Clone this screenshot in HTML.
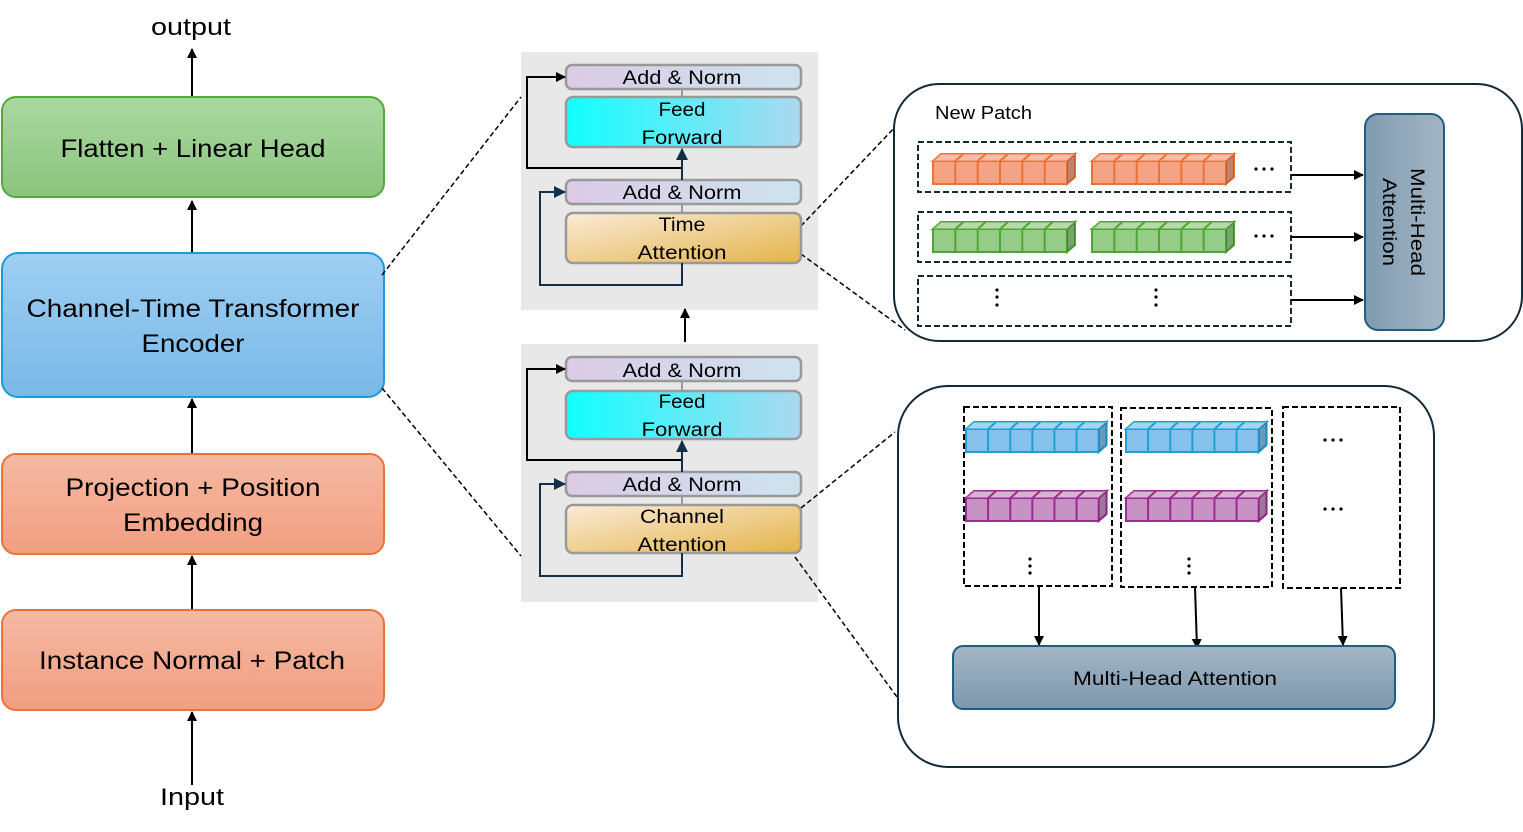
<!DOCTYPE html>
<html><head><meta charset="utf-8"><style>
html,body{margin:0;padding:0;background:#fff;width:1523px;height:832px;overflow:hidden}
svg{display:block;font-family:"Liberation Sans",sans-serif}
</style></head><body>
<svg width="1523" height="832" viewBox="0 0 1523 832" xmlns="http://www.w3.org/2000/svg">
<defs>
<linearGradient id="gG" x1="0" y1="0" x2="0" y2="1"><stop offset="0" stop-color="#a9d8a0"/><stop offset="1" stop-color="#8cc47e"/></linearGradient>
<linearGradient id="gB" x1="0" y1="0" x2="0" y2="1"><stop offset="0" stop-color="#9ecff3"/><stop offset="1" stop-color="#79b8e8"/></linearGradient>
<linearGradient id="gO" x1="0" y1="0" x2="0" y2="1"><stop offset="0" stop-color="#f5b9a3"/><stop offset="1" stop-color="#f29e80"/></linearGradient>
<linearGradient id="gAN" x1="0" y1="0" x2="1" y2="0"><stop offset="0" stop-color="#dccbe6"/><stop offset="1" stop-color="#cde3ef"/></linearGradient>
<linearGradient id="gFF" x1="0" y1="0" x2="1" y2="0"><stop offset="0" stop-color="#12ffff"/><stop offset="1" stop-color="#acd8f0"/></linearGradient>
<linearGradient id="gTA" x1="0" y1="0" x2="1" y2="1"><stop offset="0" stop-color="#faebd8"/><stop offset="1" stop-color="#e4b449"/></linearGradient>
<linearGradient id="gM1" x1="0" y1="0" x2="1" y2="0"><stop offset="0" stop-color="#7f9bb0"/><stop offset="1" stop-color="#a3b6c5"/></linearGradient>
<linearGradient id="gM2" x1="0" y1="0" x2="0" y2="1"><stop offset="0" stop-color="#a3b6c5"/><stop offset="1" stop-color="#7d98ad"/></linearGradient>
<marker id="ar" markerWidth="10" markerHeight="10" refX="9" refY="5" orient="auto" markerUnits="userSpaceOnUse"><path d="M0,0 L10,5 L0,10 z" fill="#000"/></marker>
<marker id="arN" markerWidth="12" markerHeight="12" refX="11" refY="6" orient="auto" markerUnits="userSpaceOnUse"><path d="M0,0 L12,6 L0,12 z" fill="#13304a"/></marker>
<g id="strip">
<path d="M0,7 H134 V30 H0 Z M0,7 L8,0 H142 L134,7 Z M134,7 L142,0 V23 L134,30 Z" stroke-width="2"/>
<path d="M0,7 L8,0 H142 L134,7 Z" fill="#fff" fill-opacity=".3" stroke="none"/>
<path d="M134,7 L142,0 V23 L134,30 Z" fill="#000" fill-opacity=".2" stroke="none"/>
<path d="M22.3,7V30M44.7,7V30M67,7V30M89.3,7V30M111.7,7V30M22.3,7l8,-7M44.7,7l8,-7M67,7l8,-7M89.3,7l8,-7M111.7,7l8,-7" fill="none" stroke-width="2"/>
</g>
</defs>

<!-- left column -->
<g font-size="25" text-anchor="middle" lengthAdjust="spacingAndGlyphs">
<text x="191" y="35" font-size="24" textLength="80" lengthAdjust="spacingAndGlyphs">output</text>
<line x1="192" y1="97" x2="192" y2="49" stroke="#000" stroke-width="2" marker-end="url(#ar)"/>
<rect x="2" y="97" width="382" height="100" rx="14" fill="url(#gG)" stroke="#55a83a" stroke-width="2"/>
<text x="193" y="157" textLength="265" lengthAdjust="spacingAndGlyphs">Flatten + Linear Head</text>
<line x1="192" y1="253" x2="192" y2="201" stroke="#000" stroke-width="2" marker-end="url(#ar)"/>
<rect x="2" y="253" width="382" height="144" rx="16" fill="url(#gB)" stroke="#1e9ad6" stroke-width="2"/>
<text x="193" y="317" textLength="333" lengthAdjust="spacingAndGlyphs">Channel-Time Transformer</text>
<text x="193" y="352" textLength="103" lengthAdjust="spacingAndGlyphs">Encoder</text>
<line x1="192" y1="454" x2="192" y2="399" stroke="#000" stroke-width="2" marker-end="url(#ar)"/>
<rect x="2" y="454" width="382" height="100" rx="14" fill="url(#gO)" stroke="#e8743c" stroke-width="2"/>
<text x="193" y="496" textLength="255" lengthAdjust="spacingAndGlyphs">Projection + Position</text>
<text x="193" y="531" textLength="140" lengthAdjust="spacingAndGlyphs">Embedding</text>
<line x1="192" y1="610" x2="192" y2="556" stroke="#000" stroke-width="2" marker-end="url(#ar)"/>
<rect x="2" y="610" width="382" height="100" rx="14" fill="url(#gO)" stroke="#e8743c" stroke-width="2"/>
<text x="192" y="669" textLength="306" lengthAdjust="spacingAndGlyphs">Instance Normal + Patch</text>
<line x1="192" y1="785" x2="192" y2="712" stroke="#000" stroke-width="2" marker-end="url(#ar)"/>
<text x="192" y="805" font-size="24" textLength="64" lengthAdjust="spacingAndGlyphs">Input</text>
</g>

<!-- middle panels -->
<rect x="521" y="52" width="297" height="258" fill="#e8e8e8"/>
<rect x="521" y="344" width="297" height="258" fill="#e8e8e8"/>
<line x1="685" y1="342" x2="685" y2="309" stroke="#000" stroke-width="2" marker-end="url(#ar)"/>

<!-- dashed connectors -->
<g stroke="#000" stroke-width="1.5" stroke-dasharray="5,3" fill="none">
<line x1="382" y1="275" x2="521" y2="97"/>
<line x1="382" y1="388" x2="521" y2="556"/>
<line x1="801" y1="226" x2="897" y2="125"/>
<line x1="801" y1="254" x2="905" y2="330"/>
<line x1="801" y1="508" x2="895" y2="432"/>
<line x1="795" y1="557" x2="897" y2="697"/>
</g>

<g font-size="19" text-anchor="middle">
<!-- panel 1 -->
<line x1="682" y1="89" x2="682" y2="97" stroke="#999" stroke-width="2"/>
<line x1="682" y1="204" x2="682" y2="213" stroke="#999" stroke-width="2"/>
<rect x="566" y="65" width="235" height="24" rx="6" fill="url(#gAN)" stroke="#999" stroke-width="2.5"/>
<text x="682" y="84" textLength="119" lengthAdjust="spacingAndGlyphs">Add &amp; Norm</text>
<rect x="566" y="97" width="235" height="50" rx="7" fill="url(#gFF)" stroke="#999" stroke-width="2.5"/>
<text x="682" y="116" textLength="47" lengthAdjust="spacingAndGlyphs">Feed</text><text x="682" y="144" textLength="81" lengthAdjust="spacingAndGlyphs">Forward</text>
<rect x="566" y="180" width="235" height="24" rx="6" fill="url(#gAN)" stroke="#999" stroke-width="2.5"/>
<text x="682" y="199" textLength="119" lengthAdjust="spacingAndGlyphs">Add &amp; Norm</text>
<rect x="566" y="213" width="235" height="50" rx="7" fill="url(#gTA)" stroke="#999" stroke-width="2.5"/>
<text x="682" y="231" textLength="47" lengthAdjust="spacingAndGlyphs">Time</text><text x="682" y="259" textLength="89" lengthAdjust="spacingAndGlyphs">Attention</text>
<polyline points="682,168 527,168 527,77 565,77" fill="none" stroke="#000" stroke-width="2" marker-end="url(#ar)"/>
<line x1="682" y1="180" x2="682" y2="149" stroke="#13304a" stroke-width="2" marker-end="url(#arN)"/>
<polyline points="682,263 682,285 540,285 540,192 565,192" fill="none" stroke="#13304a" stroke-width="2" marker-end="url(#arN)"/>
<!-- panel 2 -->
<line x1="682" y1="381" x2="682" y2="391" stroke="#999" stroke-width="2"/>
<line x1="682" y1="496" x2="682" y2="505" stroke="#999" stroke-width="2"/>
<rect x="566" y="357" width="235" height="24" rx="6" fill="url(#gAN)" stroke="#999" stroke-width="2.5"/>
<text x="682" y="377" textLength="119" lengthAdjust="spacingAndGlyphs">Add &amp; Norm</text>
<rect x="566" y="391" width="235" height="48" rx="7" fill="url(#gFF)" stroke="#999" stroke-width="2.5"/>
<text x="682" y="408" textLength="47" lengthAdjust="spacingAndGlyphs">Feed</text><text x="682" y="436" textLength="81" lengthAdjust="spacingAndGlyphs">Forward</text>
<rect x="566" y="472" width="235" height="24" rx="6" fill="url(#gAN)" stroke="#999" stroke-width="2.5"/>
<text x="682" y="491" textLength="119" lengthAdjust="spacingAndGlyphs">Add &amp; Norm</text>
<rect x="566" y="505" width="235" height="48" rx="7" fill="url(#gTA)" stroke="#999" stroke-width="2.5"/>
<text x="682" y="523" textLength="84" lengthAdjust="spacingAndGlyphs">Channel</text><text x="682" y="551" textLength="89" lengthAdjust="spacingAndGlyphs">Attention</text>
<polyline points="682,460 527,460 527,369 565,369" fill="none" stroke="#000" stroke-width="2" marker-end="url(#ar)"/>
<line x1="682" y1="472" x2="682" y2="441" stroke="#13304a" stroke-width="2" marker-end="url(#arN)"/>
<polyline points="682,553 682,576 540,576 540,484 565,484" fill="none" stroke="#13304a" stroke-width="2" marker-end="url(#arN)"/>
</g>

<!-- right panel 1 -->
<rect x="894" y="84" width="628" height="257" rx="45" fill="#fff" stroke="#132a3a" stroke-width="2"/>
<text x="935" y="119" font-size="18" textLength="97" lengthAdjust="spacingAndGlyphs">New Patch</text>
<g fill="none" stroke="#132a3a" stroke-width="2" stroke-dasharray="6,3">
<rect x="918" y="142" width="373" height="50"/>
<rect x="918" y="212" width="373" height="50"/>
<rect x="918" y="276" width="373" height="50"/>
</g>
<use href="#strip" x="933" y="154" fill="#f4a384" stroke="#ea7236"/>
<use href="#strip" x="1092" y="154" fill="#f4a384" stroke="#ea7236"/>
<use href="#strip" x="933" y="222" fill="#95cc87" stroke="#4ea632"/>
<use href="#strip" x="1092" y="222" fill="#95cc87" stroke="#4ea632"/>
<g fill="#000">
<circle cx="1256" cy="169" r="1.6"/><circle cx="1264" cy="169" r="1.6"/><circle cx="1272" cy="169" r="1.6"/>
<circle cx="1256" cy="236" r="1.6"/><circle cx="1264" cy="236" r="1.6"/><circle cx="1272" cy="236" r="1.6"/>
<circle cx="997" cy="290" r="1.6"/><circle cx="997" cy="297" r="1.6"/><circle cx="997" cy="305" r="1.6"/>
<circle cx="1156" cy="290" r="1.6"/><circle cx="1156" cy="297" r="1.6"/><circle cx="1156" cy="305" r="1.6"/>
</g>
<g stroke="#000" stroke-width="2">
<line x1="1291" y1="175" x2="1363" y2="175" marker-end="url(#ar)"/>
<line x1="1291" y1="237" x2="1363" y2="237" marker-end="url(#ar)"/>
<line x1="1291" y1="300" x2="1363" y2="300" marker-end="url(#ar)"/>
</g>
<rect x="1365" y="114" width="79" height="216" rx="13" fill="url(#gM1)" stroke="#1d5f82" stroke-width="2"/>
<text transform="translate(1411,222) rotate(90)" font-size="19" text-anchor="middle" textLength="108" lengthAdjust="spacingAndGlyphs">Multi-Head</text>
<text transform="translate(1383,222) rotate(90)" font-size="19" text-anchor="middle" textLength="88" lengthAdjust="spacingAndGlyphs">Attention</text>

<!-- right panel 2 -->
<rect x="898" y="386" width="536" height="381" rx="50" fill="#fff" stroke="#132a3a" stroke-width="2"/>
<g fill="none" stroke="#000" stroke-width="2" stroke-dasharray="6,3">
<rect x="964" y="407" width="148" height="179"/>
<rect x="1121" y="408" width="151" height="179"/>
<rect x="1283" y="407" width="117" height="181"/>
</g>
<use href="#strip" transform="translate(966,422) scale(0.99,1)" fill="#85c1ea" stroke="#1f9fd6"/>
<use href="#strip" transform="translate(1126,422) scale(0.99,1)" fill="#85c1ea" stroke="#1f9fd6"/>
<use href="#strip" transform="translate(966,491) scale(0.99,1)" fill="#c992c4" stroke="#9b2a93"/>
<use href="#strip" transform="translate(1126,491) scale(0.99,1)" fill="#c992c4" stroke="#9b2a93"/>
<g fill="#000">
<circle cx="1030" cy="559" r="1.6"/><circle cx="1030" cy="566" r="1.6"/><circle cx="1030" cy="573" r="1.6"/>
<circle cx="1189" cy="559" r="1.6"/><circle cx="1189" cy="566" r="1.6"/><circle cx="1189" cy="573" r="1.6"/>
<circle cx="1325" cy="440" r="1.6"/><circle cx="1333" cy="440" r="1.6"/><circle cx="1341" cy="440" r="1.6"/>
<circle cx="1325" cy="509" r="1.6"/><circle cx="1333" cy="509" r="1.6"/><circle cx="1341" cy="509" r="1.6"/>
</g>
<g stroke="#000" stroke-width="2">
<line x1="1039" y1="586" x2="1039" y2="645" marker-end="url(#ar)"/>
<line x1="1195" y1="587" x2="1197" y2="648" marker-end="url(#ar)"/>
<line x1="1341" y1="588" x2="1343" y2="645" marker-end="url(#ar)"/>
</g>
<rect x="953" y="646" width="442" height="63" rx="10" fill="url(#gM2)" stroke="#1d5f82" stroke-width="2"/>
<text x="1175" y="685" font-size="19" text-anchor="middle" textLength="204" lengthAdjust="spacingAndGlyphs">Multi-Head Attention</text>
</svg>
</body></html>
